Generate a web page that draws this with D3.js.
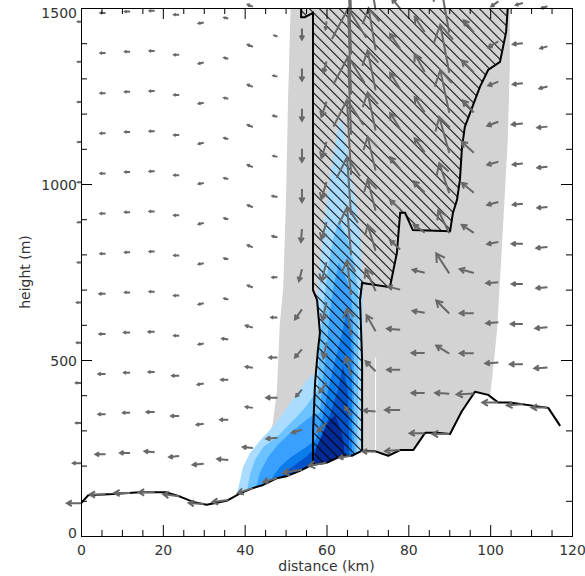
<!DOCTYPE html>
<html>
<head>
<meta charset="utf-8">
<title>cross section</title>
<script src="https://cdn.jsdelivr.net/npm/d3@7"></script>
<style>
  body { margin: 0; background: #fff; }
  svg text { font-family: "DejaVu Sans", sans-serif; font-size: 14px; fill: #333; }
</style>
</head>
<body>
<svg id="chart" width="585" height="576"></svg>
<script>
// terrain along the section (km, m)
var terrainKm = [0, 1.8, 7.9, 14.4, 20.9, 24.2, 27.4, 30.7, 35.6, 38.9, 42.0, 44.5, 47.8, 50.3, 53.5, 56.4, 60.0, 63.7, 66.2, 68.6,
                 71.8, 75.1, 78.0, 81.2, 84.1, 86.9, 90.2, 93.0, 96.3, 99.5, 102.0, 104.8, 114.2, 117.1];
var terrainM  = [93, 116, 119, 124, 124, 112, 97, 89, 100, 121, 136, 145, 164, 170, 185, 202, 208, 228, 228, 242,
                 241, 228, 244, 244, 293, 293, 290, 353, 410, 401, 379, 379, 364, 313];

// cloud (grey) outline, [km, m]
var cloudArea = [[51.3,1530],[50.6,1239],[50.1,955],[49.4,699],[48.6,605],[47.9,415],[46.9,321],[45.0,259],[43.5,200],[42.5,100],
                 [100.0,100],[100.0,400],[100.7,472],[101.7,585],[102.4,727],[103.1,869],[104.3,1125],[104.8,1332],[104.8,1530]];
// thin unfilled seam in the cloud field
var cloudSeam = [[72.0,241],[72.0,507]];

// rain water contours, light to dark
var rain1 = [[63.8,1188],[65.7,1048],[67.0,955],[68.2,861],[68.7,756],[68.9,670],[68.9,188],[38.1,102],[38.1,119],[38.9,159],
             [39.6,196],[41.3,236],[44.5,281],[46.9,310],[49.4,349],[52.8,406],[55.2,443],[57.2,463],[57.9,528],[58.4,577],
             [57.7,670],[58.4,764],[59.1,861],[60.1,955],[61.3,1048],[62.8,1162]];
var rain2 = [[63.0,898],[65.2,841],[67.0,764],[67.7,690],[67.7,386],[67.4,188],[40.6,102],[40.6,131],[41.3,173],[42.5,216],
             [44.5,253],[47.9,281],[50.3,310],[54.3,358],[56.5,392],[57.9,415],[58.2,528],[58.9,614],[59.6,690],[60.4,764],[61.6,841]];
var rain3 = [[63.0,778],[65.0,727],[66.2,670],[66.7,528],[66.7,330],[67.0,188],[42.8,102],[42.8,139],[43.7,179],[45.7,224],
             [48.1,259],[50.6,287],[53.5,315],[56.7,344],[58.4,349],[59.1,443],[60.1,537],[60.8,634],[61.8,713]];
var rain4 = [[65.0,656],[66.0,585],[66.2,443],[66.2,188],[45.5,102],[45.5,153],[46.7,165],[48.6,196],[51.1,222],[54.7,250],
             [57.4,273],[58.9,330],[60.4,415],[62.1,500],[64.0,585]];
var rain5 = [[64.0,486],[65.2,415],[65.5,301],[65.5,188],[49.1,102],[49.1,170],[49.9,182],[52.3,202],[54.7,222],[57.4,250],
             [58.9,287],[60.8,344],[62.8,415]];
var rain6 = [[62.1,344],[63.5,301],[64.3,259],[64.3,188],[56.5,188],[57.4,244],[58.9,287],[60.4,324]];
var rainColors = ["#a9dcff", "#6cc2ff", "#3aa0ff", "#0c7cec", "#0052c8", "#002a96"];

// updraft (hatched) outline
var updraftArea = [[53.8,1530],[53.8,1474],[54.7,1474],[56.7,1486],[56.7,699],[57.7,670],[58.4,577],[57.9,528],[57.2,435],[56.7,293],
                   [56.7,150],[68.7,150],[68.7,500],[68.2,670],[68.7,719],[75.5,707],[77.2,804],[78.0,918],[79.2,918],[81.1,869],
                   [90.2,866],[90.9,918],[91.9,955],[92.6,1011],[93.1,1102],[93.8,1162],[95.1,1202],[97.5,1276],[99.5,1324],
                   [102.4,1347],[103.9,1432],[104.3,1500],[104.4,1530]];

// wind vectors on terrain-following levels
var colKm  = [0, 6, 12, 18, 24, 30, 36, 42, 48, 54, 60, 66, 72, 78, 84, 90, 96, 102, 108, 114];
var colSfc = [93, 118, 122, 124, 113, 91, 102, 136, 165, 188, 208, 228, 240, 244, 292, 290, 405, 379, 374, 365];
var levelDz = 114;
var _ = null;
// u (m/s), one row per level
var U = [
  [-5.6,-6.4,-6.4,-6.4,-6.4,-6.0,-6.4,-6.0,-5.6,-7.6,-7.2,-4.8,-5.2,-6.0,-6.0,-6.8,-6.8,-6.4,-6.4,-6.4],
  [-3.2,-4,-4,-4,-4,-4.4,-4.4,-4,-4.4,-4,-3.6,-2.4,-4.8,-6,-5.2,-5.6,-5.6,-5.2,-5.2,-5.2],
  [-2,-2.8,-2.8,-3.2,-3.2,-2.8,-3.2,-2.8,-4.4,-2.4,-2.8,-2,-4,-5.2,-5.2,-5.2,-5.6,-4.8,-4.8,-4.8],
  [-2,-2.8,-2.4,-2.4,-2.8,-2.4,-2.8,-2.8,-3.2,-2.8,-1.2,-1.6,-3.6,-5.2,-4.8,-5.2,-5.6,-4.8,-4.4,-4.4],
  [-1.6,-2.4,-2.4,-2.4,-2,-2,-2.4,-2.8,-2.4,-2.8,-1.6,-1.6,-4,-4.8,-4.8,-5.2,-4.8,-4.4,-4.4,-4.4],
  [-1.6,-2.4,-2,-2,-2,-2,-1.6,-2,-2,-1.2,-2,-1.6,-3.2,-4,-4.4,-4.4,-4.8,-4.4,-4,-4],
  [-1.2,-2,-2,-2,-2,-2,-1.6,-2,-2,-0.4,-2,-1.6,-3.2,-4,-4.4,-4,-4.8,-4.4,-4,-4],
  [-1.2,-2,-2,-2,-2,-2,-1.6,-2,-2,0,-2,-1.6,-3.2,-4,-4,-4,-4.4,-4.4,-4.4,-4],
  [-1.2,-2,-2,-2,-2,-2,-1.6,-2,-1.6,0,-2,-1.2,-3.2,-4,-4,-3.6,-4.8,-4,-4,-3.2],
  [-1.2,-2,-2,-2,-2,-2,-1.6,-2,-1.6,0,-2,-1.2,-3.2,-4,-4,-3.6,-4,-4,-4,-2.8],
  [-1.2,-2,-2,-2,-2,-2,-1.6,-2,-1.6,0,-1.2,-1.2,-2.8,-4,-4,-3.6,_,-2.8,-2.8,-2.4],
  [-1.2,-2,-2,-2,-2,-2,-1.6,-2,-1.2,0,-0.4,-1.2,-2.8,-3.2,_,_,_,_,_,_],
  [-1.2,-2,-2,-2,-2,-2,-1.6,-2,_,_,_,_,_,_,_,_,_,_,_,_]
];
// w (m/s), one row per level
var W = [
  [0,0,0,0,0.08,0.04,-0.08,-0.2,-0.16,-0.12,-0.12,-0.08,0,-0.04,0,0,-0.04,0,-0.04,0],
  [0,0,0,0.04,-0.04,-0.04,0.04,0.04,-0.04,-0.12,-0.36,0.36,0.04,0,0,0.04,0,-0.04,0,-0.04],
  [0,0,0,0,0,-0.04,0,0.04,0,-0.28,-0.4,0.76,0.4,0,0,0.32,0,-0.04,0,-0.04],
  [0,0,0,0,0,-0.04,0,0.04,0,-0.32,-0.64,1.08,0.64,0.04,0.08,0.52,0.16,-0.04,0,-0.04],
  [0,0,0,0,0,-0.04,0.04,0.08,0,-0.4,-0.72,1.4,0.88,0.12,0.12,0.8,0.32,-0.08,0,-0.04],
  [0,0,0,0,0,-0.04,0.04,0.08,0,-0.48,-0.76,1.92,1.04,0.36,0.32,0.92,0.4,-0.12,-0.04,-0.04],
  [0,0,0,0,0,-0.04,0.04,0.08,0.04,-0.52,-0.68,2.32,1.24,0.36,0.44,1.2,0.44,-0.12,-0.04,-0.04],
  [0,0,0,0,0,-0.04,0.04,0.08,0.04,-0.52,-0.68,3.0,1.36,0.48,0.56,1.44,0.48,-0.16,-0.04,-0.04],
  [0,0,0,0,0,-0.04,0.04,0.08,0.04,-0.52,-0.64,3.12,1.52,0.64,0.6,1.72,0.48,-0.16,-0.04,-0.08],
  [0,0,0,0,0,-0.04,0.04,0.08,0.04,-0.48,-0.6,3.44,1.6,0.64,0.72,1.92,0.48,-0.24,-0.04,-0.08],
  [0,0,0,0,0,-0.04,0.04,0.08,0.04,-0.48,-0.44,3.6,1.68,0.6,0.6,2.0,_,-0.2,-0.08,-0.08],
  [0,0,0,0,0,-0.04,0.04,0.08,0.04,-0.44,-0.32,3.6,1.68,0.4,_,_,_,_,_,_],
  [0,0,0,0,0,-0.04,0.04,0.08,_,_,_,_,_,_,_,_,_,_,_,_]
];

// axis ticks
var xMajor = [0, 20, 40, 60, 80, 100, 120];
var xMinor = [5, 10, 15, 25, 30, 35, 45, 50, 55, 65, 70, 75, 85, 90, 95, 105, 110, 115];
var yMajor = [0, 500, 1000, 1500];
var yMinor = [100, 200, 300, 400, 600, 700, 800, 900, 1100, 1200, 1300, 1400];

var svg = d3.select("#chart");
var xs = d3.scaleLinear().domain([0, 120]).range([81, 572]);
var ys = d3.scaleLinear().domain([0, 1500]).range([536, 8]);
// vector lengths in pixels
var uLen = d3.scaleLinear().domain([0, 1]).range([0, 2.5]);
var wLen = d3.scaleLinear().domain([0, 1]).range([0, 25]);

var defs = svg.append("defs");
defs.append("clipPath").attr("id", "plotclip")
  .append("rect").attr("x", xs(0)).attr("y", ys(1500))
  .attr("width", xs(120) - xs(0)).attr("height", ys(0) - ys(1500));
var pat = defs.append("pattern").attr("id", "hatch")
  .attr("patternUnits", "userSpaceOnUse")
  .attr("width", 7.07).attr("height", 7.07)
  .attr("patternTransform", "rotate(-45)");
pat.append("line").attr("x1", 0.5).attr("y1", 0).attr("x2", 0.5).attr("y2", 7.07)
  .attr("stroke", "#000").attr("stroke-width", 1);

var area = d3.line().x(function(d) { return xs(d[0]); }).y(function(d) { return ys(d[1]); });
var plot = svg.append("g").attr("clip-path", "url(#plotclip)");

plot.append("path").attr("d", area(cloudArea) + "Z").attr("fill", "#d3d3d3");
plot.append("path").attr("d", area(cloudSeam)).attr("stroke", "#fff").attr("stroke-width", 1);

[rain1, rain2, rain3, rain4, rain5, rain6].forEach(function(poly, i) {
  plot.append("path").attr("d", area(poly) + "Z").attr("fill", rainColors[i]);
});

plot.append("path").attr("d", area(updraftArea) + "Z").attr("fill", "url(#hatch)");
plot.append("path").attr("d", area(updraftArea) + "Z")
  .attr("fill", "none").attr("stroke", "#000").attr("stroke-width", 2);

// white below the ground
var ground = terrainKm.map(function(d, i) { return [d, terrainM[i]]; });
var mask = ground.concat([[117.1, -60], [-2, -60], [-2, 93]]);
plot.append("path").attr("d", area(mask) + "Z").attr("fill", "#fff");
plot.append("path").attr("d", area(ground))
  .attr("fill", "none").attr("stroke", "#000").attr("stroke-width", 2).attr("stroke-linejoin", "round");

// arrows
var arrows = [];
U.forEach(function(row, k) {
  row.forEach(function(u, i) {
    if (u === null) return;
    arrows.push({ x: colKm[i], z: colSfc[i] + k * levelDz, u: u, w: W[k][i] });
  });
});

function arrowPath(d) {
  var x0 = xs(d.x), y0 = ys(d.z);
  var x1 = x0 + uLen(d.u), y1 = y0 - wLen(d.w);
  var dx = x1 - x0, dy = y1 - y0, L = Math.sqrt(dx * dx + dy * dy);
  if (L < 0.05) return "";
  var h = 0.4 * L, a = Math.atan2(dy, dx), s = Math.PI / 6;
  var b1x = x1 - h * Math.cos(a - s), b1y = y1 - h * Math.sin(a - s);
  var b2x = x1 - h * Math.cos(a + s), b2y = y1 - h * Math.sin(a + s);
  return "M" + x0 + "," + y0 + "L" + x1 + "," + y1 +
         "M" + b1x + "," + b1y + "L" + x1 + "," + y1 + "L" + b2x + "," + b2y;
}

svg.append("g").selectAll("path").data(arrows).enter().append("path")
  .attr("d", arrowPath)
  .attr("fill", "none").attr("stroke", "#686868").attr("stroke-width", 2);

// axes, ticks pointing inward
function noLabel() { return ""; }
var fmt = d3.format("d");
var axes = svg.append("g");
axes.append("g").attr("transform", "translate(0," + ys(0) + ")")
  .call(d3.axisBottom(xs).tickValues(xMinor).tickSize(-6).tickSizeOuter(0).tickFormat(noLabel));
axes.append("g").attr("transform", "translate(0," + ys(0) + ")")
  .call(d3.axisBottom(xs).tickValues(xMajor).tickSize(-11).tickSizeOuter(0).tickPadding(9).tickFormat(fmt));
axes.append("g").attr("transform", "translate(0," + ys(1500) + ")")
  .call(d3.axisTop(xs).tickValues(xMinor).tickSize(-6).tickSizeOuter(0).tickFormat(noLabel));
axes.append("g").attr("transform", "translate(0," + ys(1500) + ")")
  .call(d3.axisTop(xs).tickValues(xMajor).tickSize(-11).tickSizeOuter(0).tickFormat(noLabel));
axes.append("g").attr("transform", "translate(" + xs(0) + ",0)")
  .call(d3.axisLeft(ys).tickValues(yMinor).tickSize(-6).tickSizeOuter(0).tickFormat(noLabel));
var yAx = axes.append("g").attr("transform", "translate(" + xs(0) + ",0)")
  .call(d3.axisLeft(ys).tickValues(yMajor).tickSize(-11).tickSizeOuter(0).tickPadding(4).tickFormat(fmt));
axes.append("g").attr("transform", "translate(" + xs(120) + ",0)")
  .call(d3.axisRight(ys).tickValues(yMinor).tickSize(-6).tickSizeOuter(0).tickFormat(noLabel));
axes.append("g").attr("transform", "translate(" + xs(120) + ",0)")
  .call(d3.axisRight(ys).tickValues(yMajor).tickSize(-11).tickSizeOuter(0).tickFormat(noLabel));

// nudge the end labels like the original
var yLabelShift = { 0: -3, 500: 1.5, 1000: 1.5, 1500: 5.5 };
yAx.selectAll(".tick text").attr("y", function(d) { return yLabelShift[d]; });

svg.append("text").attr("x", (xs(0) + xs(120)) / 2).attr("y", 571)
  .attr("text-anchor", "middle").text("distance (km)");
svg.append("text").attr("transform", "translate(30," + (ys(0) + ys(1500)) / 2 + ") rotate(-90)")
  .attr("text-anchor", "middle").text("height (m)");
</script>
</body>
</html>
